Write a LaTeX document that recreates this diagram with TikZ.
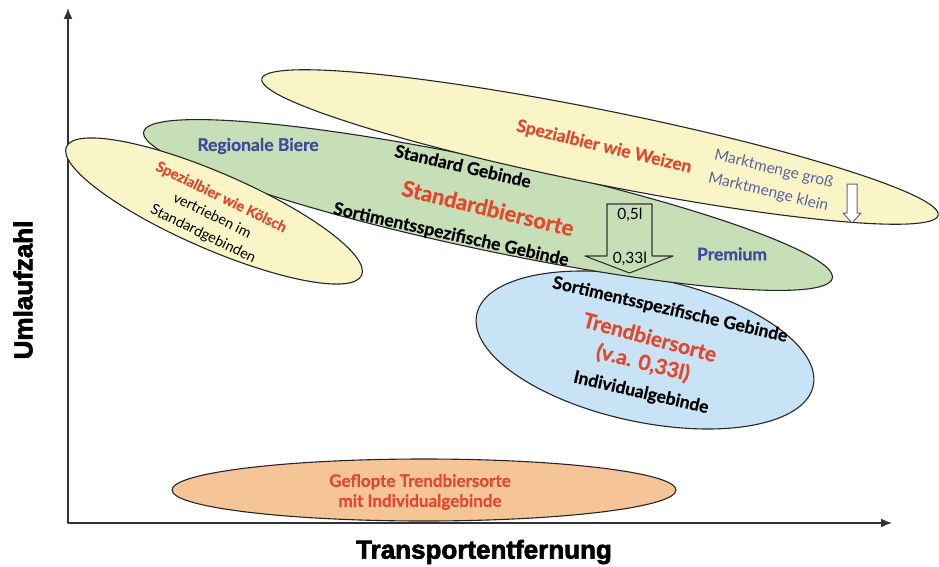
\documentclass[tikz,border=0pt]{standalone}
\usepackage{fontspec}
\setmainfont{Lato}[BoldFeatures={FakeBold=0.6}]
\newfontfamily\axisfont[BoldFeatures={FakeBold=2.5}]{Liberation Sans}
\usetikzlibrary{shapes.geometric,arrows.meta,positioning}
\definecolor{beerYellow}{HTML}{FAF5C6}
\definecolor{beerGreen}{HTML}{C7DFB6}
\definecolor{beerBlue}{HTML}{C9E3F6}
\definecolor{beerOrange}{HTML}{F6C597}
\definecolor{labelRed}{HTML}{E4472C}
\definecolor{labelBlue}{HTML}{3E4B9D}
\definecolor{mengeBlue}{HTML}{5A63A0}
\tikzstyle{every node}=[font=\bfseries\fontsize{17.5}{20}\selectfont,inner sep=0pt]
\tikzstyle{every path}=[line width=1.1pt,line cap=round,line join=round]
\tikzstyle{segment}=[draw=black!85,ellipse,inner sep=0pt]
\tikzstyle{redlabel}=[text=labelRed]
\tikzstyle{biglabel}=[text=labelRed,font=\bfseries\fontsize{21}{24}\selectfont]
\tikzstyle{bluelabel}=[text=labelBlue]
\tikzstyle{plainlabel}=[font=\fontsize{15.5}{18}\selectfont]
\tikzstyle{mengelabel}=[text=mengeBlue,align=center,font=\fontsize{15.5}{23.5}\selectfont]
\tikzstyle{axislabel}=[font=\axisfont\bfseries\fontsize{26}{30}\selectfont]
\tikzstyle{axis}=[line width=1.5pt,draw=black!80]

\begin{document}
\begin{tikzpicture}[x=1pt,y=-1pt]
    \useasboundingbox (0,0) rectangle (939,567);

    % Define named coordinates
    \coordinate (origin) at (68,523);
    \coordinate (ytop) at (68,8);
    \coordinate (xend) at (892,523);
    \coordinate (bigarrow) at (629.5,204);
    \coordinate (smallarrow) at (852,184);

    % Axes
    \draw[axis,{Latex[length=11pt,width=9pt]}-{Latex[length=11pt,width=9pt]}] (ytop) -- (origin) -- (xend);
    \node[axislabel,rotate=90] (ylabel) at (23,290) {Umlaufzahl};
    \node[axislabel] (xlabel) at (484,552) {Transportentfernung};

    % Segments
    \node[segment,fill=beerBlue,minimum width=344,minimum height=144,rotate=-12] (trend) at (645,350) {};
    \node[segment,fill=beerGreen,minimum width=704,minimum height=90,rotate=-12] (standard) at (488,205) {};
    \node[segment,fill=beerYellow,minimum width=690,minimum height=74,rotate=-11.4] (weizen) at (600,147) {};
    \node[segment,fill=beerYellow,minimum width=322,minimum height=76,rotate=-23.5] (koelsch) at (214,211) {};
    \node[segment,fill=beerOrange,minimum width=504,minimum height=62] (flop) at (424,490) {};

    % Standard segment
    \node[bluelabel] (regional) at (258,146) {Regionale Biere};
    \node[rotate=-13] (stdgebinde) at (463,166) {Standard Gebinde};
    \node[biglabel,rotate=-13.5,font=\bfseries\fontsize{22}{24}\selectfont] (stdsorte) at (488,208) {Standardbiersorte};
    \node[rotate=-12.5] (sortgebinde) at (451,235) {Sortimentsspezifische Gebinde};
    \node[bluelabel] (premium) at (732,254) {Premium};

    % Weizen segment
    \node[redlabel,rotate=-13.5] (weizenlabel) at (604,147) {Spezialbier wie Weizen};
    \node[mengelabel,rotate=-13.5] (menge) at (771,181) {Marktmenge groß\\Marktmenge klein};

    % Koelsch segment
    \node[align=center,rotate=-26,font=\fontsize{14.5}{20.5}\selectfont] (koelschlabel) at (212,216)
        {\textcolor{labelRed}{\bfseries Spezialbier wie Kölsch}\\vertrieben im\\Standardgebinden};

    % Trend segment
    \node[rotate=-13] (trendgebinde) at (670,310) {Sortimentsspezifische Gebinde};
    \node[biglabel,rotate=-15] (trendlabel) at (650,337) {Trendbiersorte};
    \node[biglabel,rotate=-14] (trendmenge) at (643,363) {(v.a. 0,33l)};
    \node[rotate=-13] (individual) at (641,393) {Individualgebinde};

    % Flop segment
    \node[redlabel,align=center,font=\bfseries\fontsize{17}{20}\selectfont] (floplabel) at (420,492) {Geflopte Trendbiersorte\\mit Individualgebinde};

    % Block arrows
    \draw[draw=black!80] (bigarrow) ++(-22.5,0) -- ++(45,0) -- ++(0,52) -- ++(21,0)
        -- ++(-43.5,17) -- ++(-44.5,-17) -- ++(22,0) -- cycle;
    \node[plainlabel] (halb) at (630,215) {0,5l};
    \node[plainlabel] (drittel) at (630,259) {0,33l};
    \draw[draw=mengeBlue,fill=white,line width=1pt] (smallarrow) ++(-5,0) -- ++(10,0) -- ++(0,29) -- ++(4,0)
        -- ++(-9,10) -- ++(-9,-10) -- ++(4,0) -- cycle;
\end{tikzpicture}
\end{document}
